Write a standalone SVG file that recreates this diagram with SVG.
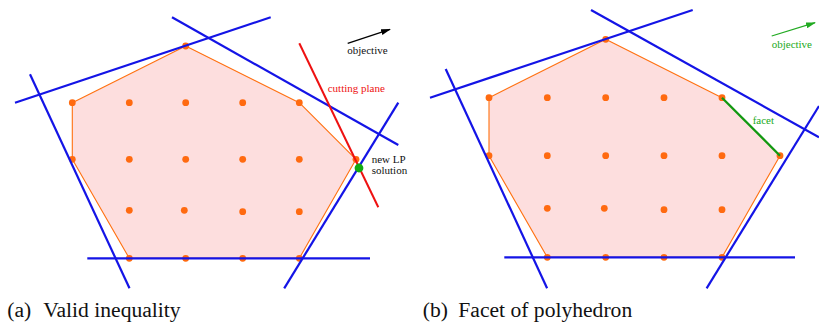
<svg xmlns="http://www.w3.org/2000/svg" width="819" height="322" viewBox="0 0 819 322">
<style>
.poly{fill:#fddede;stroke:#ff7010;stroke-width:1.1;stroke-linejoin:round}
.pt{fill:#ff6a10}
.bl{stroke:#1414e6;stroke-width:2.2;fill:none}
.lbl{font-size:11px}
.cap{font-size:21.6px;fill:#111}
</style>
<defs>
<marker id="ahk" viewBox="0 0 10 6" refX="9" refY="3" markerWidth="10" markerHeight="6" orient="auto" markerUnits="userSpaceOnUse"><path d="M0,0 L10,3 L0,6 Z" fill="#000"/></marker>
<marker id="ahg" viewBox="0 0 10 6" refX="9" refY="3" markerWidth="10" markerHeight="6" orient="auto" markerUnits="userSpaceOnUse"><path d="M0,0 L10,3 L0,6 Z" fill="#22aa22"/></marker>
</defs>

<g id="panel-a" font-family="'Liberation Serif', 'DejaVu Serif', 'Times New Roman', serif">
  <g id="polytope-a">
    <polygon class="poly" points="185.7,46 299.3,102.7 356,159.3 299.3,258.3 129.3,258.3 72.3,159.3 72.3,102.7"/>
  </g>
  <g id="points-a">
    <circle class="pt" cx="185.7" cy="46" r="3.4"/>
    <circle class="pt" cx="72.3" cy="102.7" r="3.4"/><circle class="pt" cx="129.3" cy="102.7" r="3.4"/><circle class="pt" cx="185.7" cy="102.7" r="3.4"/><circle class="pt" cx="242.7" cy="102.7" r="3.4"/><circle class="pt" cx="299.3" cy="102.7" r="3.4"/>
    <circle class="pt" cx="72.3" cy="159.3" r="3.4"/><circle class="pt" cx="129.3" cy="159.3" r="3.4"/><circle class="pt" cx="185.7" cy="159.3" r="3.4"/><circle class="pt" cx="242.7" cy="159.3" r="3.4"/><circle class="pt" cx="299.3" cy="159.3" r="3.4"/><circle class="pt" cx="356" cy="159.3" r="3.4"/>
    <circle class="pt" cx="129.3" cy="210.3" r="3.4"/><circle class="pt" cx="184.3" cy="210.3" r="3.4"/><circle class="pt" cx="242.7" cy="211.7" r="3.4"/><circle class="pt" cx="299.3" cy="211.7" r="3.4"/>
    <circle class="pt" cx="129.3" cy="258.3" r="3.4"/><circle class="pt" cx="185.7" cy="258.3" r="3.4"/><circle class="pt" cx="242.7" cy="258.3" r="3.4"/><circle class="pt" cx="299.3" cy="258.3" r="3.4"/>
  </g>
  <g id="connectors-a">
    <line class="bl" x1="15" y1="102.7" x2="270.7" y2="17.3"/>
    <line class="bl" x1="172" y1="17.3" x2="398.3" y2="145"/>
    <line class="bl" x1="30" y1="74.3" x2="129.5" y2="288.3"/>
    <line class="bl" x1="398.3" y1="102.7" x2="284.2" y2="288.3"/>
    <line class="bl" x1="87.3" y1="258.3" x2="370" y2="258.3"/>
    <line x1="299.3" y1="43.3" x2="378.3" y2="207.3" stroke="#ee1111" stroke-width="2"/>
    <line x1="347.7" y1="43.3" x2="390" y2="29.3" stroke="#000" stroke-width="1.3" marker-end="url(#ahk)"/>
  </g>
  <g id="lp-solution">
    <circle cx="359" cy="168" r="4.4" fill="#11aa11"/>
  </g>
  <text class="lbl" x="347.3" y="54" fill="#111">objective</text>
  <text class="lbl" x="327.7" y="92" fill="#ee1111">cutting plane</text>
  <text class="lbl" x="371.7" y="163.3" fill="#111">new LP</text>
  <text class="lbl" x="371.7" y="174.3" fill="#111">solution</text>
  <text class="cap" x="7.3" y="316.7">(a)</text>
  <text class="cap" x="43.3" y="316.7">Valid inequality</text>
</g>

<g id="panel-b" font-family="'Liberation Serif', 'DejaVu Serif', 'Times New Roman', serif">
  <g id="polytope-b">
    <polygon class="poly" points="605.7,39.3 722,97.7 780,155.7 722,257.3 547.3,257.3 489,155.7 489,97.7"/>
  </g>
  <g id="points-b">
    <circle class="pt" cx="605.7" cy="39.3" r="3.4"/>
    <circle class="pt" cx="489" cy="97.7" r="3.4"/><circle class="pt" cx="547.3" cy="97.7" r="3.4"/><circle class="pt" cx="605.7" cy="97.7" r="3.4"/><circle class="pt" cx="664" cy="97.7" r="3.4"/><circle class="pt" cx="722" cy="97.7" r="3.4"/>
    <circle class="pt" cx="489" cy="155.7" r="3.4"/><circle class="pt" cx="547.3" cy="155.7" r="3.4"/><circle class="pt" cx="605.7" cy="155.7" r="3.4"/><circle class="pt" cx="664" cy="155.7" r="3.4"/><circle class="pt" cx="722" cy="155.7" r="3.4"/><circle class="pt" cx="780" cy="155.7" r="3.4"/>
    <circle class="pt" cx="547.3" cy="208.3" r="3.4"/><circle class="pt" cx="604.3" cy="208.3" r="3.4"/><circle class="pt" cx="664" cy="209.7" r="3.4"/><circle class="pt" cx="722" cy="209.7" r="3.4"/>
    <circle class="pt" cx="547.3" cy="257.3" r="3.4"/><circle class="pt" cx="605.7" cy="257.3" r="3.4"/><circle class="pt" cx="664" cy="257.3" r="3.4"/><circle class="pt" cx="722" cy="257.3" r="3.4"/>
  </g>
  <g id="connectors-b">
    <line class="bl" x1="430" y1="97.7" x2="692.7" y2="10"/>
    <line class="bl" x1="591" y1="10" x2="819" y2="137.3"/>
    <line class="bl" x1="445.7" y1="69" x2="547.1" y2="288.3"/>
    <line class="bl" x1="819" y1="106" x2="706.6" y2="288.3"/>
    <line class="bl" x1="504.3" y1="257.3" x2="795" y2="257.3"/>
    <line x1="722" y1="97.7" x2="780" y2="155.7" stroke="#119911" stroke-width="2.3"/>
    <line x1="771.7" y1="36" x2="815" y2="22.7" stroke="#22aa22" stroke-width="1.3" marker-end="url(#ahg)"/>
  </g>
  <text class="lbl" x="771.7" y="47.7" fill="#22aa22">objective</text>
  <text class="lbl" x="752.7" y="124.3" fill="#22aa22">facet</text>
  <text class="cap" x="422.7" y="316.7">(b)</text>
  <text class="cap" x="458.3" y="316.7">Facet of polyhedron</text>
</g>
</svg>
